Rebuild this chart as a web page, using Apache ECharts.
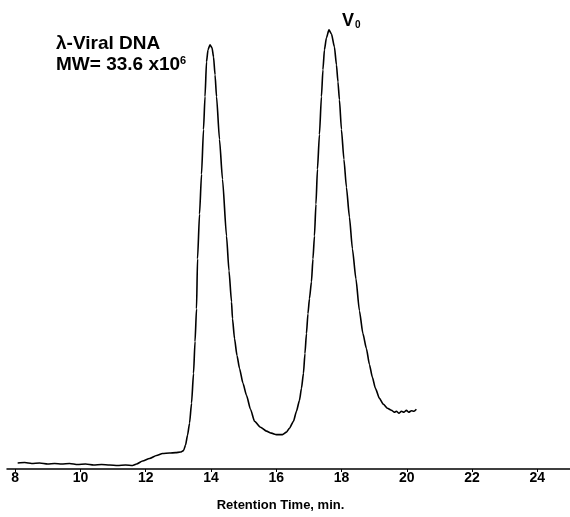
<!DOCTYPE html>
<html>
<head>
<meta charset="utf-8">
<script src="https://cdn.jsdelivr.net/npm/echarts@6/dist/echarts.min.js"></script>
<style>
  html, body { margin: 0; padding: 0; background: #fff; }
  #chart { width: 570px; height: 517px; }
</style>
</head>
<body>
<div id="chart"></div>
<script>
// Size-exclusion chromatogram of lambda viral DNA
const retentionTime = [
  8.077, 8.291, 8.505, 8.750, 8.995, 9.209, 9.424, 9.669, 9.914, 10.159,
  10.404, 10.648, 10.893, 11.138, 11.383, 11.598, 11.720, 11.904, 12.118, 12.332,
  12.516, 12.730, 12.914, 13.067, 13.159, 13.220, 13.282, 13.343, 13.404, 13.465,
  13.511, 13.557, 13.588, 13.649, 13.710, 13.771, 13.817, 13.863, 13.909, 13.970,
  14.032, 14.078, 14.124, 14.170, 14.261, 14.353, 14.476, 14.552, 14.629, 14.659,
  14.721, 14.797, 14.874, 14.981, 15.088, 15.211, 15.333, 15.517, 15.700, 15.853,
  16.006, 16.190, 16.313, 16.405, 16.527, 16.619, 16.711, 16.772, 16.833, 16.879,
  16.925, 16.971, 17.017, 17.078, 17.124, 17.170, 17.216, 17.262, 17.323, 17.384,
  17.430, 17.476, 17.537, 17.614, 17.690, 17.782, 17.844, 17.890, 17.935, 17.997,
  18.073, 18.150, 18.242, 18.334, 18.441, 18.548, 18.655, 18.762, 18.854,
  18.946, 19.038, 19.160, 19.283, 19.405, 19.528, 19.620, 19.681, 19.760, 19.834,
  19.910, 19.987, 20.060, 20.140, 20.220, 20.293
];
const detectorSignal = [
  1.50, 1.62, 1.38, 1.50, 1.25, 1.38, 1.25, 1.38, 1.12, 1.25,
  1.00, 1.12, 1.00, 0.88, 1.00, 0.88, 1.25, 2.00, 2.62, 3.38,
  3.88, 4.00, 4.12, 4.25, 4.62, 6.00, 8.50, 11.50, 16.50, 24.00,
  32.00, 40.25, 52.75, 64.00, 74.00, 85.25, 93.50, 102.25, 105.25, 106.50,
  105.75, 103.50, 99.00, 93.50, 82.75, 72.75, 58.50, 49.75, 42.00, 37.75,
  32.75, 28.50, 25.25, 21.50, 18.50, 15.00, 12.00, 10.50, 9.50, 9.00,
  8.62, 8.62, 9.25, 10.25, 12.00, 14.50, 17.25, 20.25, 24.00, 29.00,
  34.00, 39.00, 42.75, 47.00, 52.75, 58.50, 66.50, 75.25, 84.00, 93.50,
  100.25, 105.25, 108.25, 110.25, 109.25, 106.00, 101.50, 97.25, 92.75, 85.25,
  77.75, 70.75, 63.25, 55.25, 47.75, 39.75, 34.00, 30.25, 26.25,
  23.00, 20.25, 17.75, 16.25, 15.25, 14.75, 14.25, 14.50, 14.00, 14.50,
  14.25, 14.75, 14.25, 14.62, 14.50, 15.00
];
const tickValues = [8, 10, 12, 14, 16, 18, 20, 22, 24];

const fontFamily = '"Liberation Sans", Arial, sans-serif';
const chart = echarts.init(document.getElementById('chart'), null, { renderer: 'canvas' });

chart.setOption({
  animation: false,
  backgroundColor: '#fff',
  grid: { left: 7, right: 0, top: 11, bottom: 46, containLabel: false },
  xAxis: {
    type: 'value',
    min: 7.75,
    max: 25,
    name: 'Retention Time, min.',
    nameLocation: 'middle',
    nameGap: 30,
    nameTextStyle: { fontFamily, fontWeight: 'bold', fontSize: 13, color: '#000', padding: [0, 16, 0, 0] },
    axisLine: { show: true, lineStyle: { color: '#000', width: 1.5 } },
    axisTick: { show: true, length: 3, lineStyle: { color: '#000', width: 1 }, customValues: tickValues },
    axisLabel: { fontFamily, fontWeight: 'bold', fontSize: 14, color: '#000', margin: 2, customValues: tickValues },
    splitLine: { show: false }
  },
  yAxis: {
    type: 'value',
    min: 0,
    max: 115,
    show: false,
    splitLine: { show: false }
  },
  series: [{
    type: 'line',
    data: retentionTime.map((t, i) => [t, detectorSignal[i]]),
    showSymbol: false,
    smooth: 0.2,
    smoothMonotone: 'x',
    lineStyle: { color: '#000', width: 1.6 }
  }],
  graphic: [
    {
      type: 'text', left: 56, top: 34,
      style: { text: 'λ-Viral DNA', font: 'bold 19px "Liberation Sans", Arial, sans-serif', fill: '#000' }
    },
    {
      type: 'text', left: 56, top: 55,
      style: {
        text: '{m|MW= 33.6 x10}{s|6}',
        rich: {
          m: { font: 'bold 19px "Liberation Sans", Arial, sans-serif', fill: '#000' },
          s: { font: 'bold 11px "Liberation Sans", Arial, sans-serif', fill: '#000', verticalAlign: 'top', padding: [0, 0, 9, 0] }
        }
      }
    },
    {
      type: 'text', left: 342, top: 12,
      style: {
        text: '{v|V}{s|0}',
        rich: {
          v: { font: 'bold 18px "Liberation Sans", Arial, sans-serif', fill: '#000' },
          s: { font: 'bold 10px "Liberation Sans", Arial, sans-serif', fill: '#000', verticalAlign: 'bottom', padding: [9, 0, 0, 1] }
        }
      }
    }
  ]
});
</script>
</body>
</html>
